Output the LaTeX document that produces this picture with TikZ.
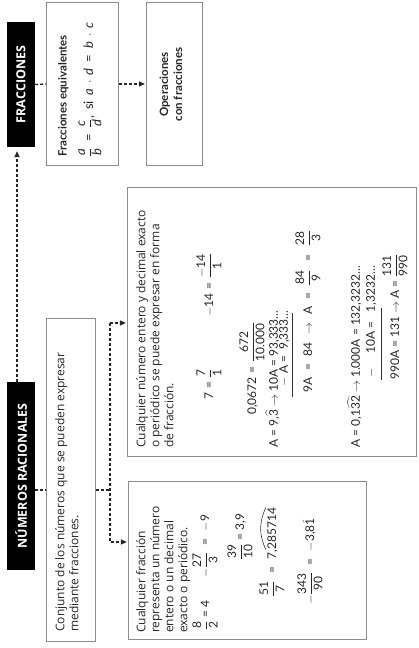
\documentclass[tikz,border=0pt]{standalone}
\usepackage{amsmath}
\usepackage{fontspec}
\setmainfont{Open Sans}
\newfontfamily\mathtxt{Lato}
\usetikzlibrary{arrows.meta,calc}
\newcommand\myfnt{\fontsize{12}{14}\selectfont}
\newcommand\mfnt{\mathtxt\fontsize{12}{14}\selectfont}
\newcommand\fr[2]{\ensuremath{\dfrac{\hbox{#1}}{\hbox{#2}}}}
\newcommand\eqw[1]{\hspace{#1}=\hspace{#1}}
\newcommand\eqs{\eqw{4pt}}
\begin{document}
\begin{tikzpicture}[x=1pt,y=1pt,rotate=90,transform shape,
  hdr/.style={fill=black, text=white, font=\fontsize{12.5}{15}\selectfont\bfseries, inner sep=0pt, minimum height=28pt},
  frame/.style={draw=black!45, line width=1.1pt, inner sep=0pt},
  conn/.style={draw=black!85, line width=1.3pt, dash pattern=on 3pt off 2pt},
  arr/.style={conn, -{Triangle[length=6pt,width=5pt]}},
  txt/.style={font=\myfnt, text=black!85, inner sep=0pt, align=left},
  mtxt/.style={font=\mfnt, text=black!85, inner sep=0pt, align=left},
  btxt/.style={font=\mathtxt\fontsize{11.5}{14}\selectfont\bfseries, text=black!85, inner sep=0pt},
  rulel/.style={draw=black!80, line width=0.6pt}]
\useasboundingbox (0,0) rectangle (648,419);

% headers
\node[hdr, minimum width=188pt] (NR) at (172,398) {NÚMEROS RACIONALES};
\node[hdr, minimum width=125pt] (FR) at (563.5,398) {FRACCIONES};

% boxes
\node[frame, minimum width=323pt, minimum height=49pt, anchor=south west] (CJ) at (6,323) {};
\node[frame, minimum width=163pt, minimum height=72pt, anchor=south west] (FE) at (482,300) {};
\node[frame, minimum width=163pt, minimum height=56pt, anchor=south west] (OP) at (482,216) {};
\node[frame, minimum width=158pt, minimum height=238pt, anchor=south west] (LB) at (8,52) {};
\node[frame, minimum width=269pt, minimum height=289pt, anchor=south west] (RB) at (191,2) {};

% connector coordinates
\coordinate (kA) at (158,0);
\coordinate (kB) at (0,402);
\coordinate (kM) at (158,309);
\coordinate (kL) at (106,309);
\coordinate (kR) at (325,309);

\draw[conn] (kA |- NR.south) -- (kA |- CJ.north);
\draw[arr, shorten >=4pt] (NR.east |- kB) -- (FR.west |- kB);
\draw[conn] (FR.south) -- (FE.north);
\draw[arr, shorten >=1pt] (FE.south) -- (OP.north);
\draw[conn] (kM |- CJ.south) -- (kM);
\draw[arr, shorten >=1pt] (kR) -- (kL) -- (kL |- LB.north);
\draw[arr, shorten >=1pt] (kR) -- (kR |- RB.north);

% texts
\node[txt, anchor=north west] (CJt) at (16,364) {Conjunto de los números que se pueden expresar\\mediante fracciones.};

\node[btxt, anchor=north west] (FEt) at (491,361) {Fracciones equivalentes};
\node[mtxt, anchor=west, font=\mathtxt\fontsize{13}{15}\selectfont] (FEf) at (491,329) {\fr{\textit{a}}{\textit{b}}\eqw{6pt}\fr{\textit{c}}{\textit{d}},\hspace{6pt}si\hspace{6pt}\textit{a}\hspace{5pt}$\cdot$\hspace{5pt}\textit{d}\eqw{6pt}\textit{b}\hspace{5pt}$\cdot$\hspace{5pt}\textit{c}};

\node[btxt, align=center] (OPt) at (563.5,248) {Operaciones\\con fracciones};

% left box
\node[txt, anchor=north west] (LBt) at (15,283) {Cualquier fracción\\representa un número\\entero o un decimal\\exacto o periódico.};
\node[mtxt, anchor=west] (l1) at (18,214) {\fr{8}{2} = 4};
\node[mtxt, anchor=west] (l2) at (70,214) {$-$\fr{27}{3}\eqw{7pt}$-$9};
\node[mtxt, anchor=west] (l3) at (88,179) {\fr{39}{10} = 3,9};
\node[mtxt, anchor=west] (l4) at (51,147) {\fr{51}{7}\eqw{7pt}7,};
\node[mtxt, anchor=base west] (l4b) at (l4.base east) {285714};
\draw[rulel] ($(l4b.north west)+(0,1.5)$) to[bend left=25] ($(l4b.north east)+(0,1.5)$);
\node[mtxt, anchor=west] (l5) at (43,109) {$-$\fr{343}{90}\eqw{7pt}$-$3,8$\hat{\hbox{1}}$};

% right box
\node[txt, anchor=north west] (RBt) at (200,283) {Cualquier número entero y decimal exacto\\o periódico se puede expresar en forma\\de fracción.};
\node[mtxt, anchor=west] (r1) at (248,210) {7\eqs\fr{7}{1}};
\node[mtxt, anchor=west] (r2) at (331,210) {$-$14\eqs\fr{$-$14}{1}};
\node[mtxt, anchor=west] (r3) at (233,167) {0,0672\eqs\fr{672}{10.000}};

\node[mtxt, anchor=base west] (e1) at (200,141) {A = 9,$\widehat{\hbox{3}}$ $\rightarrow$ 10A = 93,333...};
\node[mtxt, anchor=base east] (e2) at ($(e1.base east)+(0,-10)$) {$-$ A = \ 9,333...};
\coordinate (u1) at (251,127);
\coordinate (u2) at (335,127);
\draw[rulel] (u1) -- (u2);
\node[mtxt, anchor=west] (e3) at (255,111) {9A\eqw{7pt}84\hspace{8pt}$\rightarrow$\hspace{8pt}A\eqw{7pt}\fr{84}{9}\eqw{8pt}\fr{28}{3}};

\node[mtxt, anchor=base west] (e4) at (200,59) {A = 0,1$\widehat{\hbox{32}}$ $\rightarrow$ 1.000A = 132,3232...};
\node[mtxt, anchor=base east] (e5) at ($(e4.base east)+(0,-15)$) {$-$ \quad 10A = \ \ 1,3232...};
\coordinate (u3) at (268,38);
\coordinate (u4) at (340,38);
\draw[rulel] (u3) -- (u4);
\node[mtxt, anchor=west] (e6) at (268,24) {990A = 131 $\rightarrow$ A = \fr{131}{990}};
\end{tikzpicture}
\end{document}
